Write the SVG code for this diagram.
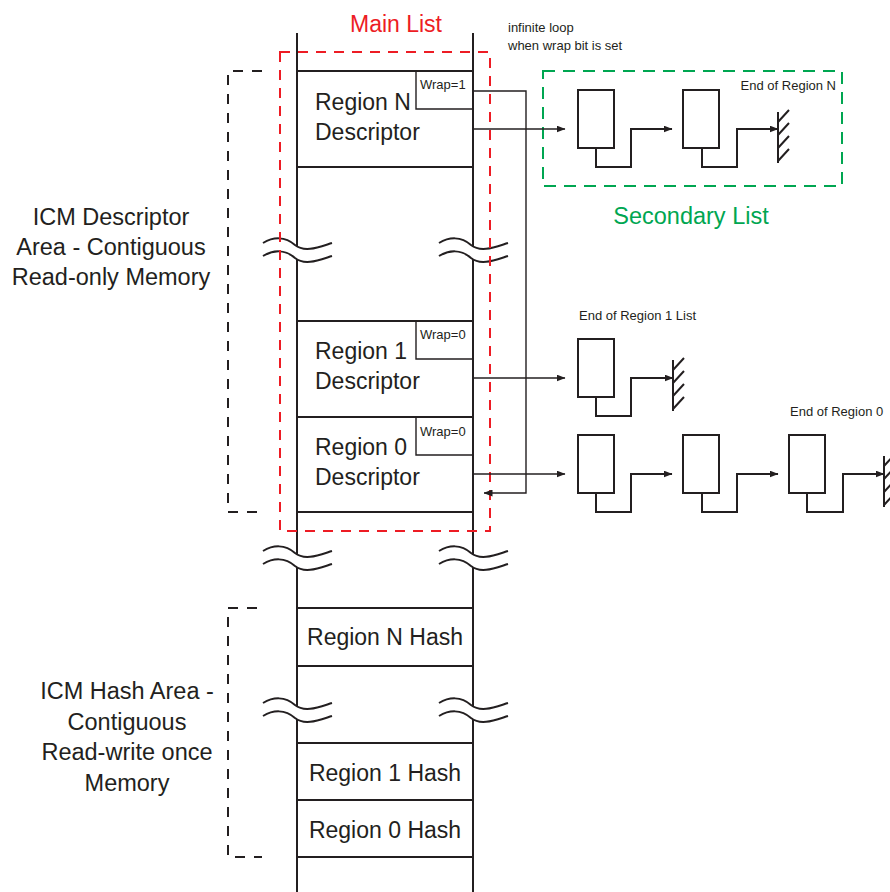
<svg xmlns="http://www.w3.org/2000/svg" width="890" height="892" viewBox="0 0 890 892">
<defs>
<style>
text{font-family:"Liberation Sans",Arial,sans-serif;fill:#231f20}
.big{font-size:23px}
.lbl{font-size:23.5px}
.sm{font-size:13px}
.col{stroke:#231f20;stroke-width:2;fill:none}
.thin{stroke:#231f20;stroke-width:1.4;fill:none}
.node{stroke:#231f20;stroke-width:2;fill:#fff}
.link{stroke:#231f20;stroke-width:2;fill:none}
.bracket{stroke:#231f20;stroke-width:2;fill:none;stroke-dasharray:10 9}
.red{stroke:#ed1c24;stroke-width:2;fill:none;stroke-dasharray:10 8}
.green{stroke:#00a651;stroke-width:2;fill:none;stroke-dasharray:12 8}
.sq{stroke:#231f20;stroke-width:2;fill:none}
</style>
<marker id="ah" markerWidth="9" markerHeight="7" refX="8.5" refY="3.5" orient="auto" markerUnits="userSpaceOnUse"><path d="M0,0 L9,3.5 L0,7 z" fill="#231f20"/></marker>
<g id="sqz"><path d="M-34,0 C-24,-6 -12,-7 -2,2 C8,10 22,4 35,0"/><path d="M-34,13 C-24,7 -12,6 -2,15 C8,23 22,17 35,13"/></g>
<path id="hatch" d="M0,0 V51 M0,10 l11,-12 M0,23 l11,-12 M0,36 l11,-12 M0,49 l11,-12"/>
</defs>
<rect width="890" height="892" fill="#fff"/>

<!-- memory column -->
<g id="column">
<path class="col" d="M297,33 V246 M297,260 V554 M297,567 V706 M297,719 V892 M473,33 V246 M473,260 V554 M473,567 V706 M473,719 V892"/>
<path class="col" d="M297,71 H473 M297,167 H473 M297,321 H473 M297,417 H473 M297,512 H473 M297,608 H473 M297,666 H473 M297,743 H473 M297,800 H473 M297,857 H473"/>
<g class="sq">
<use href="#sqz" x="297" y="243"/><use href="#sqz" x="473" y="243"/>
<use href="#sqz" x="297" y="551"/><use href="#sqz" x="473" y="551"/>
<use href="#sqz" x="297" y="703"/><use href="#sqz" x="473" y="703"/>
</g>
</g>

<g id="regionN-desc">
<path class="thin" d="M416,71 V109 H473"/>
<text class="sm" x="420" y="89">Wrap=1</text>
<text class="big" x="315" y="110">Region N</text>
<text class="big" x="315" y="140">Descriptor</text>
</g>
<g id="region1-desc">
<path class="thin" d="M416,321 V359 H473"/>
<text class="sm" x="420" y="339">Wrap=0</text>
<text class="big" x="315" y="359">Region 1</text>
<text class="big" x="315" y="389">Descriptor</text>
</g>
<g id="region0-desc">
<path class="thin" d="M416,417 V455 H473"/>
<text class="sm" x="420" y="436">Wrap=0</text>
<text class="big" x="315" y="455">Region 0</text>
<text class="big" x="315" y="485">Descriptor</text>
</g>
<g id="regionN-hash"><text class="big" x="385" y="645" text-anchor="middle">Region N Hash</text></g>
<g id="region1-hash"><text class="big" x="385" y="781" text-anchor="middle">Region 1 Hash</text></g>
<g id="region0-hash"><text class="big" x="385" y="838" text-anchor="middle">Region 0 Hash</text></g>

<g id="main-list">
<rect class="red" x="280" y="52" width="210" height="479"/>
<text x="396" y="32" text-anchor="middle" style="font-size:23px;fill:#ed1c24">Main List</text>
</g>

<g id="descriptor-area">
<path class="bracket" d="M262,71 H228 V512 H262"/>
<text class="lbl" x="111" y="225" text-anchor="middle">ICM Descriptor</text>
<text class="lbl" x="111" y="255" text-anchor="middle">Area - Contiguous</text>
<text class="lbl" x="111" y="285" text-anchor="middle">Read-only Memory</text>
</g>
<g id="hash-area">
<path class="bracket" d="M257,608 H228 V857 H262"/>
<text class="lbl" x="127" y="699" text-anchor="middle">ICM Hash Area -</text>
<text class="lbl" x="127" y="730" text-anchor="middle">Contiguous</text>
<text class="lbl" x="127" y="760" text-anchor="middle">Read-write once</text>
<text class="lbl" x="127" y="791" text-anchor="middle">Memory</text>
</g>

<g id="loop-note">
<text class="sm" x="508" y="32">infinite loop</text>
<text class="sm" x="508" y="50">when wrap bit is set</text>
</g>

<g id="secondary-list">
<rect class="green" x="543" y="71" width="299" height="115"/>
<text x="691" y="224" text-anchor="middle" style="font-size:23.5px;fill:#00a651">Secondary List</text>
<text class="sm" x="836" y="90" text-anchor="end">End of Region N</text>
</g>
<g id="listN-node1"><rect class="node" x="578" y="90" width="36" height="58"/></g>
<g id="listN-node2"><rect class="node" x="683" y="90" width="36" height="58"/></g>
<g id="listN-end"><use href="#hatch" x="778" y="112" class="link"/></g>

<g id="list1-node1"><rect class="node" x="578" y="339" width="36" height="58"/></g>
<g id="list1-end"><use href="#hatch" x="673" y="360" class="link"/>
<text class="sm" x="579" y="320">End of Region 1 List</text></g>

<g id="list0-node1"><rect class="node" x="578" y="435" width="36" height="58"/></g>
<g id="list0-node2"><rect class="node" x="683" y="435" width="36" height="58"/></g>
<g id="list0-node3"><rect class="node" x="789" y="435" width="36" height="58"/></g>
<g id="list0-end"><use href="#hatch" x="884" y="456" class="link"/>
<text class="sm" x="790" y="416">End of Region 0</text></g>

<g id="connectors">
<path class="thin" d="M473,129 H565" marker-end="url(#ah)"/>
<path class="thin" d="M473,378 H565" marker-end="url(#ah)"/>
<path class="thin" d="M473,474 H565" marker-end="url(#ah)"/>
<path class="thin" d="M473,91 H526 V493 H484" marker-end="url(#ah)"/>
<path class="link" d="M596,148 V167 H631 V129 H672" marker-end="url(#ah)"/>
<path class="link" d="M702,148 V167 H737 V129 H778" marker-end="url(#ah)"/>
<path class="link" d="M596,397 V416 H631 V378 H673" marker-end="url(#ah)"/>
<path class="link" d="M596,493 V512 H631 V474 H672" marker-end="url(#ah)"/>
<path class="link" d="M702,493 V512 H737 V474 H778" marker-end="url(#ah)"/>
<path class="link" d="M807,493 V512 H843 V474 H884" marker-end="url(#ah)"/>
</g>
</svg>
